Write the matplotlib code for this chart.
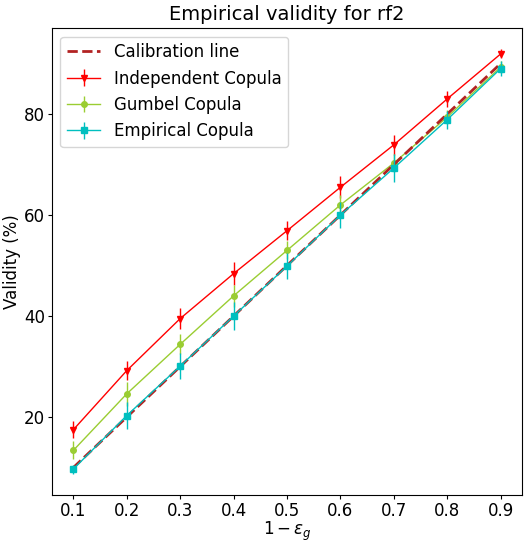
import numpy as np
import matplotlib
matplotlib.use("Agg")
import matplotlib.pyplot as plt

levels = [0.1, 0.2, 0.3, 0.4, 0.5, 0.6, 0.7, 0.8, 0.9]
calib = [10, 20, 30, 40, 50, 60, 70, 80, 90]

indep = [17.5, 29.2, 39.5, 48.4, 56.9, 65.5, 73.9, 83.0, 91.9]
indep_err = [1.7, 1.9, 2.1, 2.3, 1.9, 2.2, 2.0, 1.6, 0.9]

gumbel = [13.4, 24.6, 34.4, 44.0, 53.0, 62.0, 70.3, 79.4, 89.3]
gumbel_err = [1.8, 2.4, 2.0, 2.2, 1.8, 2.0, 1.7, 1.4, 1.2]

empir = [9.7, 20.3, 30.1, 40.0, 49.9, 60.0, 69.3, 78.9, 89.0]
empir_err = [0.9, 2.7, 2.6, 2.8, 2.5, 2.5, 2.8, 1.8, 1.5]

fig = plt.figure(figsize=(5.24, 5.42), dpi=100)
ax = fig.add_axes([0.0992, 0.087, 0.897, 0.861])

ax.plot(levels, calib, "--", color="#b22222", lw=2, label="Calibration line", zorder=3)
ax.errorbar(levels, indep, yerr=indep_err, color="red", marker="v", ms=5, lw=1,
            label="Independent Copula")
ax.errorbar(levels, gumbel, yerr=gumbel_err, color="yellowgreen", marker="o", ms=4, lw=1,
            label="Gumbel Copula")
ax.errorbar(levels, empir, yerr=empir_err, color="c", marker="s", ms=4, lw=1,
            label="Empirical Copula", zorder=4)

ax.set_xticks(levels)
ax.set_yticks([20, 40, 60, 80])
ax.tick_params(labelsize=12, length=3, pad=2)
ax.set_xlabel(r"$1-\varepsilon_g$", fontsize=12, labelpad=0)
ax.set_ylabel("Validity (%)", fontsize=12, labelpad=2)
ax.set_title("Empirical validity for rf2", fontsize=14)
ax.legend(fontsize=12, loc="upper left")

fig.savefig("out.png", dpi=100)
